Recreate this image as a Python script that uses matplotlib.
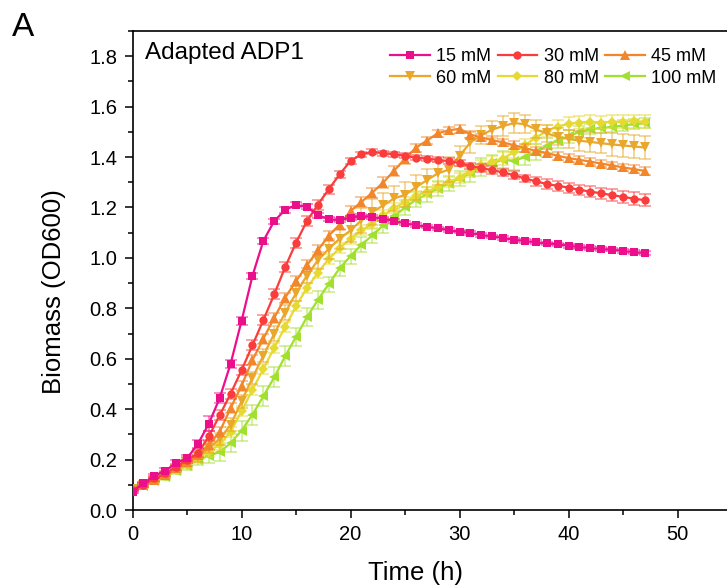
import matplotlib
matplotlib.use("Agg")
import matplotlib.pyplot as plt
from matplotlib.lines import Line2D
from matplotlib.ticker import MultipleLocator, FormatStrFormatter

plt.rcParams['font.family'] = ['Liberation Sans', 'DejaVu Sans']

time_h = list(range(48))
labels = ['15 mM', '30 mM', '45 mM', '60 mM', '80 mM', '100 mM']

s15 = [0.073,0.106,0.136,0.156,0.186,0.205,0.262,0.342,0.444,0.580,
       0.749,0.928,1.067,1.146,1.190,1.210,1.202,1.170,1.153,1.150,
       1.160,1.166,1.162,1.156,1.146,1.137,1.130,1.124,1.117,1.110,
       1.104,1.099,1.091,1.085,1.079,1.072,1.067,1.062,1.058,1.054,
       1.048,1.043,1.039,1.035,1.033,1.027,1.023,1.019]
s30 = [0.080,0.100,0.125,0.145,0.172,0.198,0.225,0.292,0.376,0.461,
       0.554,0.653,0.753,0.855,0.963,1.060,1.146,1.211,1.272,1.331,
       1.385,1.411,1.421,1.415,1.411,1.405,1.398,1.394,1.389,1.384,
       1.376,1.365,1.356,1.348,1.339,1.328,1.315,1.304,1.293,1.286,
       1.279,1.270,1.263,1.256,1.249,1.242,1.235,1.229]
s45 = [0.082,0.100,0.120,0.140,0.168,0.190,0.218,0.258,0.311,0.404,
       0.493,0.594,0.679,0.762,0.842,0.908,0.970,1.030,1.088,1.132,
       1.186,1.222,1.259,1.299,1.346,1.393,1.437,1.465,1.494,1.506,
       1.512,1.489,1.478,1.467,1.458,1.447,1.435,1.425,1.416,1.405,
       1.396,1.389,1.382,1.374,1.367,1.359,1.352,1.345]
s60 = [0.085,0.100,0.120,0.135,0.163,0.185,0.212,0.245,0.282,0.338,
       0.431,0.524,0.612,0.699,0.782,0.860,0.930,0.990,1.036,1.076,
       1.109,1.149,1.182,1.208,1.236,1.250,1.280,1.308,1.335,1.350,
       1.405,1.458,1.487,1.509,1.523,1.535,1.530,1.510,1.494,1.481,
       1.472,1.465,1.460,1.455,1.450,1.446,1.442,1.438]
s80 = [0.085,0.100,0.118,0.133,0.158,0.180,0.205,0.232,0.259,0.310,
       0.391,0.477,0.559,0.643,0.726,0.808,0.881,0.940,0.996,1.039,
       1.076,1.109,1.135,1.169,1.197,1.222,1.246,1.262,1.282,1.302,
       1.318,1.341,1.368,1.380,1.394,1.420,1.447,1.477,1.503,1.521,
       1.532,1.537,1.540,1.537,1.540,1.540,1.542,1.540]
s100 = [0.088,0.095,0.115,0.130,0.155,0.175,0.198,0.215,0.230,0.265,
        0.315,0.378,0.451,0.526,0.610,0.687,0.765,0.833,0.896,0.959,
        1.007,1.052,1.089,1.129,1.165,1.200,1.230,1.252,1.275,1.295,
        1.315,1.335,1.360,1.375,1.390,1.385,1.400,1.420,1.445,1.465,
        1.482,1.500,1.510,1.515,1.520,1.525,1.530,1.534]

e15 = [0.005,0.006,0.008,0.010,0.012,0.012,0.015,0.030,0.020,0.015,
       0.015,0.012,0.012,0.010,0.012,0.010,0.010,0.010,0.008,0.008,
       0.008,0.008,0.008,0.008,0.008,0.008,0.008,0.007,0.007,0.007,
       0.007,0.007,0.007,0.007,0.007,0.007,0.007,0.007,0.007,0.007,
       0.007,0.007,0.007,0.007,0.007,0.007,0.007,0.007]
e30 = [0.005,0.008,0.010,0.010,0.012,0.012,0.015,0.020,0.020,0.020,
       0.020,0.020,0.020,0.020,0.020,0.020,0.020,0.020,0.018,0.015,
       0.012,0.010,0.010,0.010,0.010,0.010,0.010,0.010,0.010,0.012,
       0.012,0.012,0.015,0.015,0.015,0.015,0.015,0.018,0.018,0.020,
       0.020,0.020,0.022,0.022,0.025,0.025,0.025,0.025]
e45 = [0.005,0.008,0.010,0.010,0.012,0.015,0.015,0.020,0.020,0.020,
       0.020,0.020,0.020,0.020,0.020,0.020,0.020,0.020,0.020,0.020,
       0.020,0.020,0.020,0.020,0.020,0.020,0.015,0.015,0.015,0.015,
       0.015,0.015,0.015,0.015,0.015,0.015,0.015,0.015,0.015,0.015,
       0.015,0.015,0.015,0.015,0.015,0.015,0.015,0.015]
e60 = [0.005,0.008,0.010,0.010,0.012,0.015,0.020,0.020,0.025,0.025,
       0.025,0.025,0.025,0.030,0.030,0.030,0.030,0.035,0.040,0.040,
       0.045,0.050,0.050,0.050,0.050,0.050,0.050,0.045,0.045,0.050,
       0.040,0.040,0.035,0.035,0.040,0.040,0.035,0.035,0.035,0.035,
       0.035,0.040,0.040,0.040,0.045,0.045,0.045,0.045]
e80 = [0.005,0.008,0.010,0.010,0.012,0.015,0.020,0.020,0.020,0.020,
       0.020,0.020,0.020,0.020,0.020,0.020,0.020,0.020,0.020,0.020,
       0.020,0.020,0.020,0.020,0.020,0.020,0.020,0.020,0.020,0.020,
       0.020,0.020,0.020,0.025,0.025,0.025,0.025,0.025,0.025,0.025,
       0.025,0.025,0.025,0.025,0.025,0.025,0.025,0.025]
e100 = [0.005,0.008,0.010,0.010,0.012,0.015,0.020,0.030,0.035,0.035,
        0.040,0.040,0.040,0.040,0.040,0.035,0.035,0.035,0.030,0.030,
        0.030,0.030,0.030,0.030,0.030,0.030,0.030,0.030,0.030,0.030,
        0.030,0.035,0.035,0.035,0.035,0.035,0.030,0.030,0.030,0.030,
        0.025,0.025,0.020,0.020,0.020,0.020,0.020,0.020]

series = [s15, s30, s45, s60, s80, s100]
errors = [e15, e30, e45, e60, e80, e100]
colors = ['#EC0F8C', '#FA3C3C', '#F2862A', '#E9A82C', '#E6D932', '#A2E030']
markers = ['s', 'o', '^', 'v', 'D', '<']
msizes = [5.5, 6, 6.5, 6.5, 5, 6.5]

W, H = 727, 588
x0, y0 = 132.5, 510
pxw = 55 * 10.9
fig = plt.figure(figsize=(W / 100, H / 100), dpi=100)
ax = fig.add_axes([x0 / W, (H - y0) / H, pxw / W, 479 / H])

for i, (s, e, c, m, ms) in enumerate(zip(series, errors, colors, markers, msizes)):
    z = 10 - i
    ax.errorbar(time_h, s, yerr=e, fmt='none', ecolor=c, alpha=0.55,
                elinewidth=1.2, capsize=4, capthick=1.2, zorder=z)
    ax.plot(time_h, s, color=c, marker=m, markersize=ms, linewidth=1.6,
            markeredgewidth=0, zorder=z + 0.5)

ax.set_xlim(0, 55)
ax.set_ylim(0, 1.9)
ax.xaxis.set_major_locator(MultipleLocator(10))
ax.xaxis.set_minor_locator(MultipleLocator(5))
ax.yaxis.set_major_locator(MultipleLocator(0.2))
ax.yaxis.set_minor_locator(MultipleLocator(0.1))
ax.yaxis.set_major_formatter(FormatStrFormatter('%.1f'))
ax.tick_params(which='major', direction='out', length=6, width=1.1,
               labelsize=14.5, pad=5)
ax.tick_params(which='minor', direction='out', length=3.5, width=1.1)
ax.tick_params(top=False, right=False)
for sp in ax.spines.values():
    sp.set_linewidth(1.2)

ax.set_xlabel('Time (h)', fontsize=18.5)
ax.set_ylabel('Biomass (OD600)', fontsize=18.5)
ax.xaxis.set_label_coords((416 - x0) / pxw, (y0 - 561) / 479)
ax.yaxis.set_label_coords((66 - x0) / pxw, 0.5 - (292 - 270.5) / 479)

ax.text((145 - x0) / pxw, (y0 - 53) / 479, 'Adapted ADP1', transform=ax.transAxes,
        fontsize=17.5, va='center', ha='left')
fig.text(23 / W, 1 - 27 / H, 'A', fontsize=24, va='center', ha='center')

handles = [Line2D([0], [0], color=c, marker=m, markersize=ms, linewidth=1.6,
                  markeredgewidth=0)
           for c, m, ms in zip(colors, markers, msizes)]
order = [0, 3, 1, 4, 2, 5]
leg = ax.legend([handles[k] for k in order], [labels[k] for k in order],
                ncol=3, frameon=False, fontsize=13, loc='upper left',
                bbox_to_anchor=((390 - x0) / pxw, (y0 - 48) / 479),
                handlelength=2.2, handletextpad=0.35, columnspacing=0.35,
                labelspacing=0.25, borderaxespad=0, borderpad=0)

fig.savefig('out.png', dpi=100)
